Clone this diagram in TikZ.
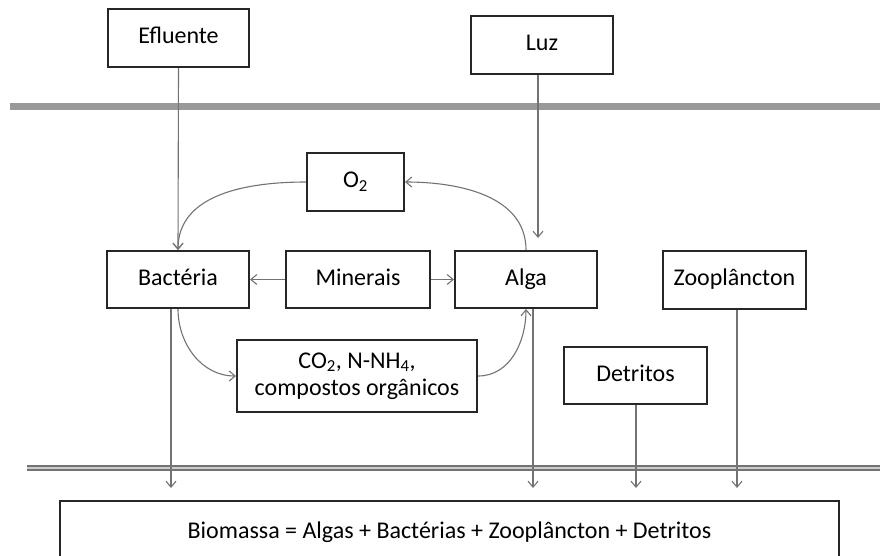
\documentclass[tikz,border=0pt]{standalone}
\usepackage{fontspec}
\setmainfont{Carlito}
\usepackage{tikz}
\usetikzlibrary{calc, positioning, arrows.meta}

\begin{document}
\begin{tikzpicture}
      [x=1pt, y=-1pt, text centered, font=\fontsize{24}{28}\selectfont,
       box/.style={draw=black!85, line width=2pt, fill=white, minimum width=142pt, minimum height=57pt,
                   text height=16pt, text depth=5pt},
       flow/.style={draw=black!55, line width=1.1pt, -{Straight Barb[length=6pt, width=10pt]}}]

      \clip (0,0) rectangle (880,555);

      % layers %
      \draw[black!40, line width=7pt] (10,106) -- (880,106);
      \draw[black!55, double=black!20, double distance=2.2pt, line width=1.6pt] (27,468) -- (880,468);

      %nodes
      \node[box, minimum width=141pt, minimum height=58pt] (efl) at (178.5,38) {Efluente};
      \node[box, minimum height=58pt] (luz) at (542,45) {Luz};
      \node[box, minimum width=97pt, minimum height=58pt] (o2) at (355.5,182) {O\textsubscript{2}};
      \node[box] (bac) at (178,279.5) {Bactéria};
      \node[box, minimum width=144pt] (min) at (358,279.5) {Minerais};
      \node[box] (alga) at (526,279.5) {Alga};
      \node[box, minimum width=143pt, minimum height=58pt] (zoo) at (734.5,280) {Zooplâncton};
      \node[box, minimum width=240pt, minimum height=72pt, align=center, text height=, text depth=,
            font=\fontsize{24}{27}\selectfont] (co2) at (357,376)
            {CO\textsubscript{2}, N-NH\textsubscript{4},\\compostos orgânicos};
      \node[box, minimum width=143pt] (det) at (635.5,375.5) {Detritos};
      \node[box, anchor=north, minimum width=779pt, inner sep=0pt, text height=37pt, text depth=70pt] (bio) at (449.5,500)
            {Biomassa = Algas + Bactérias + Zooplâncton + Detritos};

      \coordinate (luzend) at (538,238);
      \coordinate (b1) at (171,488);
      \coordinate (b2) at (533,488);
      \coordinate (b3) at (636,488);
      \coordinate (b4) at (737,488);

      % edges %
      \draw[flow] (efl.south) -- (bac.north);
      \draw[flow] (luz.south -| luzend) -- (luzend);
      \draw[flow] (o2.west) to[out=180, in=90] (bac.north);
      \draw[flow] (alga.north) to[out=90, in=0] (o2.east);
      \draw[flow] (min.west) -- (bac.east);
      \draw[flow] (min.east) -- (alga.west);
      \draw[flow] (bac.south) to[out=-90, in=180] (co2.west);
      \draw[flow] (co2.east) to[out=0, in=-90] (alga.south);
      \draw[flow] (bac.south -| b1) -- (b1);
      \draw[flow] (alga.south -| b2) -- (b2);
      \draw[flow] (det.south -| b3) -- (b3);
      \draw[flow] (zoo.south -| b4) -- (b4);
    \end{tikzpicture}
\end{document}
